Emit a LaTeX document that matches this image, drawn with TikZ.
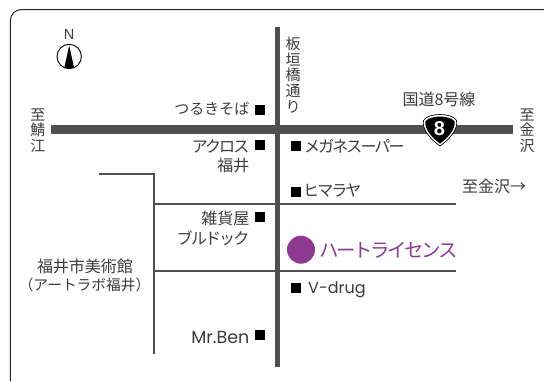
\documentclass[tikz,border=0pt]{standalone}
\usepackage{fontspec}
\setmainfont{Noto Sans CJK JP}
\newfontfamily\latinf{Liberation Sans}
\newfontfamily\wideLatin{Poppins}
\newfontfamily\tightf[LetterSpace=-12]{Noto Sans CJK JP}
\definecolor{road}{HTML}{505050}
\definecolor{txt}{HTML}{3C3C3C}
\definecolor{purp}{HTML}{8E3A92}
\tikzset{
  x=1pt,y=-1pt,
  mainroad/.style={draw=road,line width=9pt},
  crossroad/.style={draw=road,line width=5.3pt},
  sideroad/.style={draw=road,line width=2pt},
  lab/.style={inner sep=0pt,text=txt,font=\fontsize{14.5}{15.6}\selectfont},
  biglab/.style={lab,font=\fontsize{16}{17}\selectfont},
  kanalab/.style={lab,font=\tightf\fontsize{16}{17}\selectfont},
  rlab/.style={anchor=east},
  llab/.style={anchor=west},
  vlab/.style={lab,align=center,font=\fontsize{15}{15.6}\selectfont},
  shop/.style={fill=black,draw=none,inner sep=0pt,minimum size=10pt},
}
\begin{document}
\begin{tikzpicture}
\useasboundingbox (0,0) rectangle (544,381);
\fill[white] (0,0) rectangle (544,381);
\draw[line width=1pt,draw=black!85,rounded corners=11pt] (10.4,381) -- (10.4,9.5) -- (544,9.5);
% roads
\coordinate (wE) at (51,129.5); \coordinate (eE) at (513,129.5);
\coordinate (nE) at (277.3,27); \coordinate (sE) at (277.3,367);
\draw[mainroad] (wE) -- (eE);
\draw[crossroad] (nE) -- (sE);
\coordinate (a1) at (99,174); \coordinate (a2) at (154,174); \coordinate (a3) at (154,354);
\draw[sideroad] (a1) -- (a2) -- (a3);
\coordinate (b1) at (154,204); \coordinate (b2) at (456,204);
\coordinate (c1) at (154,270.7); \coordinate (c2) at (456,270.7);
\draw[sideroad] (b1) -- (b2);
\draw[sideroad] (c1) -- (c2);
% compass
\node[circle,draw=black,line width=.9pt,minimum size=24.4pt,inner sep=0pt] (comp) at (69.2,56.5) {};
\fill[black] (69.2,45.5) -- (74,67.5) -- (72,68.2) -- (66.4,68.2) -- (64.4,67.5) -- cycle;
\node[inner sep=0pt,font=\latinf\fontsize{14.5}{14.5}\selectfont,text=txt] (north) at (69,34.3) {N};
% route shield
\filldraw[draw=black,line width=.7pt,fill=white] (440,114.5) .. controls (446,114.5) and (454,116) .. (456.5,120.5) .. controls (458.5,129) and (449,140) .. (440,146) .. controls (431,140) and (421.5,129) .. (423.5,120.5) .. controls (426,116) and (434,114.5) .. (440,114.5) -- cycle;
\fill[black] (440,116.5) .. controls (445,116.5) and (452.5,118) .. (454.7,121.5) .. controls (455.7,129) and (447.5,138.5) .. (440,143.5) .. controls (432.5,138.5) and (424.3,129) .. (425.3,121.5) .. controls (427.5,118) and (435,116.5) .. (440,116.5) -- cycle;
\node[inner sep=0pt,text=white,font=\latinf\bfseries\fontsize{20}{20}\selectfont] (r8) at (439.5,128.5) {8};
% labels on roads
\node[vlab] (lSabae) at (38,130.5) {至\\鯖\\江};
\node[vlab] (lKana) at (527,130.5) {至\\金\\沢};
\node[vlab] (lItagaki) at (293,75) {板\\垣\\橋\\通\\り};
\node[biglab,anchor=center] (lR8) at (439,99) {国道8号線};
\node[biglab,anchor=west] (lKana2) at (462,186) {至金沢→};
% shops, left of road
\node[shop] (s1) at (260,109.7) {};
\node[lab,rlab,font=\fontsize{15}{15}\selectfont] (t1) at (249.5,109) {つるきそば};
\node[shop] (s2) at (260,144.7) {};
\node[kanalab,rlab] (t2) at (249.5,146) {アクロス};
\node[biglab,rlab] (t2b) at (249.5,165.5) {福井};
\node[shop] (s3) at (260,216.7) {};
\node[biglab,rlab] (t3) at (249.5,218) {雑貨屋};
\node[kanalab,rlab] (t3b) at (249.5,238) {ブルドック};
\node[shop] (s4) at (260,334.7) {};
\node[lab,rlab,font=\wideLatin\fontsize{17.5}{18}\selectfont] (t4) at (249.5,337) {Mr.Ben};
% shops, right of road
\node[shop] (s5) at (296.2,145.7) {};
\node[kanalab,llab] (t5) at (304,146) {メガネスーパー};
\node[shop] (s6) at (296.2,191.7) {};
\node[kanalab,llab] (t6) at (303,191) {ヒマラヤ};
\node[shop] (s7) at (296.2,288) {};
\node[lab,llab,font=\wideLatin\fontsize{16}{16}\selectfont] (t7) at (308,289.5) {V-drug};
% museum
\node[biglab,anchor=center] (m1) at (85,266) {福井市美術館};
\node[lab,font=\fontsize{14.7}{15}\selectfont,anchor=center] (m2) at (84.5,285) {（アートラボ福井）};
% target
\node[circle,fill=purp,draw=none,minimum size=28pt,inner sep=0pt] (heart) at (301,249.7) {};
\node[inner sep=0pt,anchor=west,text=purp,font=\tightf\fontsize{19.4}{20}\selectfont] (hname) at (319,250) {ハートライセンス};
\end{tikzpicture}
\end{document}
